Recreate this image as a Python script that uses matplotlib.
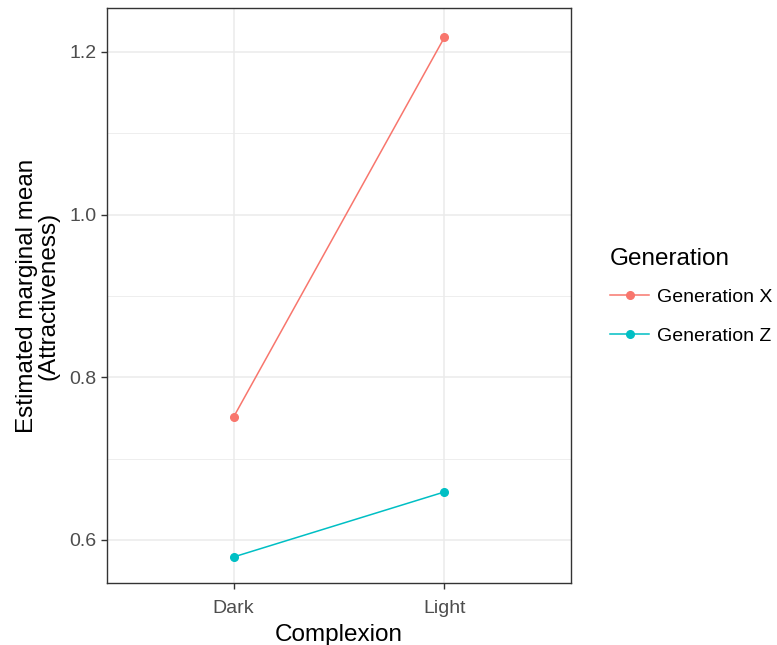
import matplotlib
matplotlib.use('Agg')
import matplotlib.pyplot as plt
from matplotlib.ticker import MultipleLocator

plt.rcParams['font.family'] = ['Liberation Sans', 'DejaVu Sans']

''' Data '''
complexion = ['Dark', 'Light']
gen_x = [0.751, 1.218]
gen_z = [0.579, 0.659]
series_names = ['Generation X', 'Generation Z']
series_colors = ['#F8766D', '#00BFC4']
yticks = [0.6, 0.8, 1.0, 1.2]

''' Plot '''
fig = plt.figure(figsize=(7.77, 6.45), dpi=100)
ax = fig.add_axes([0.1377, 0.0961, 0.5972, 0.8915])

xpos = list(range(len(complexion)))
for vals, name, col in zip([gen_x, gen_z], series_names, series_colors):
    ax.plot(xpos, vals, color=col, lw=1.1, marker='o', markersize=5.5, label=name)

# axes / grid in the style of theme_bw
ax.set_xlim(-0.6, 1.6)
ax.set_ylim(0.547, 1.254)
ax.set_xticks(xpos)
ax.set_xticklabels(complexion)
ax.yaxis.set_minor_locator(MultipleLocator(0.1))
ax.set_yticks(yticks)
ax.set_yticklabels(['{:.1f}'.format(v) for v in yticks])
ax.grid(which='major', color='#EBEBEB', lw=1.1)
ax.grid(which='minor', axis='y', color='#EBEBEB', lw=0.6)
ax.set_axisbelow(True)
for s in ax.spines.values():
    s.set_color('#333333')
    s.set_linewidth(1.0)
ax.tick_params(which='major', length=4.5, width=1, color='#333333',
               labelsize=14, labelcolor='#4D4D4D', pad=3)
ax.tick_params(axis='x', pad=8)
ax.tick_params(which='minor', length=0)

ax.set_xlabel('Complexion', fontsize=17.5, labelpad=5)
ax.set_ylabel('Estimated marginal mean\n(Attractiveness)', fontsize=17.5, labelpad=7,
              multialignment='center', linespacing=1.0)

leg = ax.legend(loc='upper left', bbox_to_anchor=(0.762, 0.642), bbox_transform=fig.transFigure,
                frameon=False, title='Generation', fontsize=14, title_fontsize=17.5,
                handlelength=2.05, handletextpad=0.4, labelspacing=1.1)
leg._legend_box.align = 'left'
leg._legend_box.sep = 13

plt.savefig('out.png', dpi=100)
